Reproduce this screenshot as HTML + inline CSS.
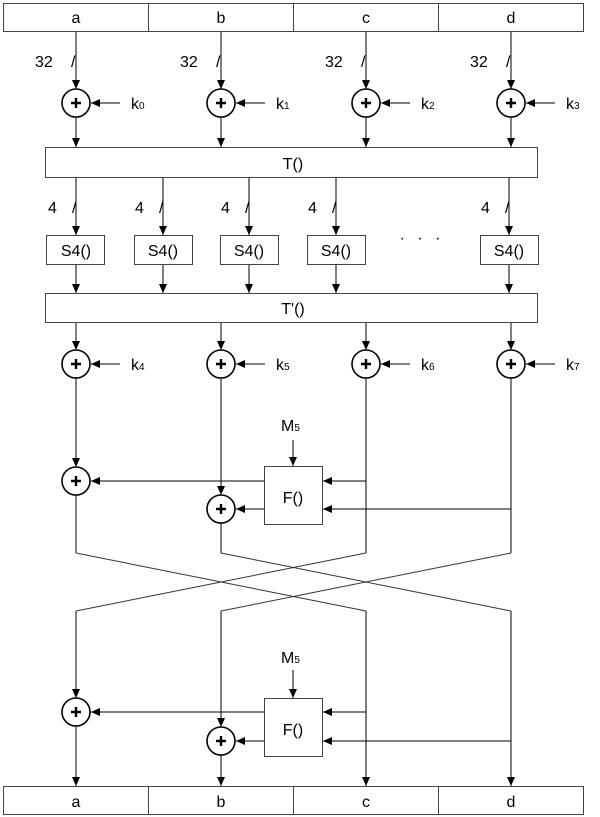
<!DOCTYPE html>
<html><head><meta charset="utf-8"><style>
html,body{margin:0;padding:0;background:#fff;}
svg{display:block;font-family:"Liberation Sans",Arial,sans-serif;}
text{font-size:16px;fill:#000;}
.s{font-size:10px;}
</style></head><body>
<svg width="600" height="817" viewBox="0 0 600 817" xmlns="http://www.w3.org/2000/svg">
<defs>
<marker id="a" markerWidth="10" markerHeight="10" refX="9" refY="4" orient="auto" markerUnits="userSpaceOnUse">
<path d="M0,0 L9,4 L0,8 Z" fill="#000"/></marker>
<g id="add"><circle r="14" fill="#fff" stroke="#000" stroke-width="1.6"/><path d="M-5,0H5M0,-5V5" stroke="#000" stroke-width="2.4"/></g>
</defs>
<g fill="none" stroke="#000" stroke-width="1">
<rect x="3.5" y="3.5" width="580" height="28" stroke="#444"/>
<path d="M148.5,3.5V31.5M293.5,3.5V31.5M438.5,3.5V31.5" stroke="#444"/>
<g marker-end="url(#a)">
<path d="M76,32V89"/><path d="M221,32V89"/><path d="M366,32V89"/><path d="M511,32V89"/>
<path d="M120,103H91"/><path d="M265,103H236"/><path d="M410,103H381"/><path d="M555,103H526"/>
<path d="M76,117V147"/><path d="M221,117V147"/><path d="M366,117V147"/><path d="M511,117V147"/>
<path d="M76,178V235"/><path d="M163,178V235"/><path d="M249,178V235"/><path d="M336,178V235"/><path d="M509,178V235"/>
<path d="M76,265V293"/><path d="M163,265V293"/><path d="M249,265V293"/><path d="M336,265V293"/><path d="M509,265V293"/>
<path d="M76,323V350"/><path d="M221,323V350"/><path d="M366,323V350"/><path d="M511,323V350"/>
<path d="M120,364H91"/><path d="M265,364H236"/><path d="M410,364H381"/><path d="M555,364H526"/>
<path d="M76,378V467"/><path d="M221,378V495"/>
<path d="M293,440V466"/>
<path d="M264,481H91"/><path d="M264,509H236"/>
<path d="M366,481H323"/><path d="M511,509H323"/>
<path d="M76,611V698"/><path d="M221,611V727"/>
<path d="M293,670V698"/>
<path d="M264,712H91"/><path d="M264,741H236"/>
<path d="M366,611V786"/><path d="M511,611V786"/>
<path d="M366,712H323"/><path d="M511,741H323"/>
<path d="M76,726V786"/><path d="M221,755V786"/>
</g>
<rect x="45.5" y="147.5" width="492" height="30" stroke="#444"/>
<rect x="46.5" y="235.5" width="58" height="29" stroke="#444"/>
<rect x="134.5" y="235.5" width="58" height="29" stroke="#444"/>
<rect x="220.5" y="235.5" width="58" height="29" stroke="#444"/>
<rect x="307.5" y="235.5" width="58" height="29" stroke="#444"/>
<rect x="480.5" y="235.5" width="58" height="29" stroke="#444"/>
<rect x="45.5" y="293.5" width="492" height="29" stroke="#444"/>
<rect x="264.5" y="466.5" width="58" height="58" stroke="#444"/>
<path d="M366,378V553M511,378V553"/>
<path d="M76,495V553M221,523V553"/>
<path d="M76,553L366,611M221,553L511,611M366,553L76,611M511,553L221,611" stroke="#333"/>
<rect x="264.5" y="698.5" width="58" height="58" stroke="#444"/>
<rect x="3.5" y="786.5" width="580" height="28" stroke="#444"/>
<path d="M148.5,786.5V814.5M293.5,786.5V814.5M438.5,786.5V814.5" stroke="#444"/>
</g>
<use href="#add" x="76" y="103"/><use href="#add" x="221" y="103"/><use href="#add" x="366" y="103"/><use href="#add" x="511" y="103"/>
<use href="#add" x="76" y="364"/><use href="#add" x="221" y="364"/><use href="#add" x="366" y="364"/><use href="#add" x="511" y="364"/>
<use href="#add" x="76" y="481"/><use href="#add" x="221" y="509"/>
<use href="#add" x="76" y="712"/><use href="#add" x="221" y="741"/>
<g text-anchor="middle">
<text x="76" y="23">a</text><text x="221" y="23">b</text><text x="366" y="23">c</text><text x="511" y="23">d</text>
<text x="293" y="169">T()</text><text x="293" y="314">T'()</text>
<text x="76" y="256">S4()</text><text x="163" y="256">S4()</text><text x="249" y="256">S4()</text><text x="336" y="256">S4()</text><text x="509" y="256">S4()</text>
<text x="293" y="503">F()</text><text x="293" y="735">F()</text>
<text x="76" y="807">a</text><text x="221" y="807">b</text><text x="366" y="807">c</text><text x="511" y="807">d</text>
<text x="422" y="243" letter-spacing="4">· · ·</text>
</g>
<g>
<text x="35" y="67">32</text><text x="71" y="67">/</text>
<text x="180" y="67">32</text><text x="216" y="67">/</text>
<text x="325" y="67">32</text><text x="361" y="67">/</text>
<text x="470" y="67">32</text><text x="506" y="67">/</text>
<text x="48" y="213">4</text><text x="72" y="213">/</text>
<text x="135" y="213">4</text><text x="159" y="213">/</text>
<text x="221" y="213">4</text><text x="245" y="213">/</text>
<text x="308" y="213">4</text><text x="332" y="213">/</text>
<text x="481" y="213">4</text><text x="505" y="213">/</text>
<text x="131" y="109">k<tspan class="s">0</tspan></text>
<text x="276" y="109">k<tspan class="s">1</tspan></text>
<text x="421" y="109">k<tspan class="s">2</tspan></text>
<text x="566" y="109">k<tspan class="s">3</tspan></text>
<text x="131" y="370">k<tspan class="s">4</tspan></text>
<text x="276" y="370">k<tspan class="s">5</tspan></text>
<text x="421" y="370">k<tspan class="s">6</tspan></text>
<text x="566" y="370">k<tspan class="s">7</tspan></text>
<text x="281" y="431">M<tspan class="s">5</tspan></text>
<text x="281" y="663">M<tspan class="s">5</tspan></text>
</g>
</svg>
</body></html>
